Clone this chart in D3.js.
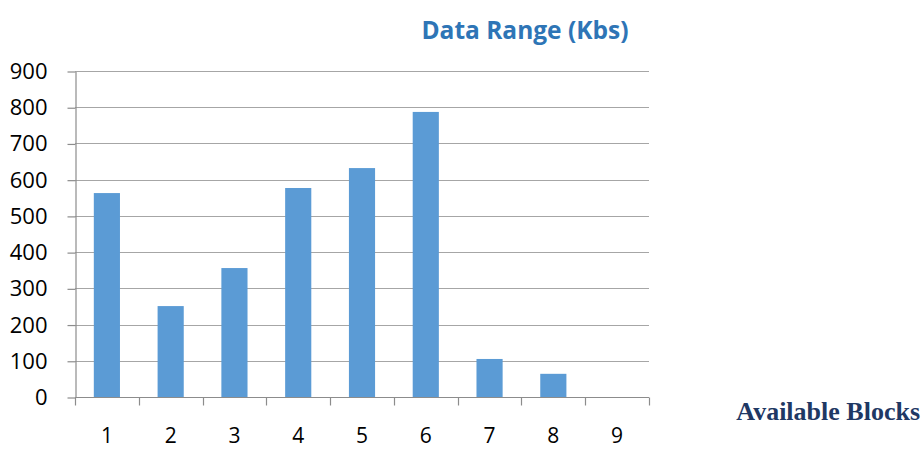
<!DOCTYPE html>
<html>
<head>
<meta charset="utf-8">
<script src="https://cdn.jsdelivr.net/npm/d3@7/dist/d3.min.js"></script>
<style>
  html, body { margin: 0; padding: 0; background: #ffffff; }
  svg { display: block; }
</style>
</head>
<body>
<svg id="chart" width="923" height="450"></svg>
<script>
// Data range per available block
const blocks = ["1", "2", "3", "4", "5", "6", "7", "8", "9"];
const dataRange = [563, 251, 356, 577, 632, 787, 105, 64, 0];
const yTicks = [0, 100, 200, 300, 400, 500, 600, 700, 800, 900];

const titleText = "Data Range (Kbs)";
const xAxisTitle = "Available Blocks";

const svg = d3.select("#chart");
const plot = { left: 75, right: 649, top: 71, bottom: 397 };

const x = d3.scaleBand()
  .domain(blocks)
  .range([plot.left, plot.right])
  .paddingInner(0.59)
  .paddingOuter(0.295);

const xTickScale = d3.scaleBand().domain(blocks).range([plot.left, plot.right]);

const y = d3.scaleLinear().domain([0, 900]).range([plot.bottom, plot.top]);

const gridColor = "#a6a6a6";
const axisColor = "#8c8c8c";
const font = "'Open Sans', 'Noto Sans', sans-serif";

// horizontal gridlines
svg.append("g")
  .selectAll("line")
  .data(yTicks.filter(d => d > 0))
  .join("line")
  .attr("x1", plot.left).attr("x2", plot.right)
  .attr("y1", d => Math.round(y(d)) + 0.5).attr("y2", d => Math.round(y(d)) + 0.5)
  .attr("stroke", gridColor).attr("stroke-width", 1.2);

// bars
svg.append("g")
  .selectAll("rect")
  .data(blocks.map((b, i) => ({ b, v: dataRange[i] })))
  .join("rect")
  .attr("x", d => x(d.b))
  .attr("width", x.bandwidth())
  .attr("y", d => y(d.v))
  .attr("height", d => y(0) - y(d.v))
  .attr("fill", "#5b9bd5");

// y axis
const yAxis = d3.axisLeft(y).tickValues(yTicks).tickSize(8).tickPadding(20).tickSizeOuter(0);
const yg = svg.append("g")
  .attr("transform", `translate(${plot.left + 0.5},0.5)`)
  .call(yAxis);
yg.select(".domain").attr("stroke", axisColor).attr("stroke-width", 1.2);
yg.selectAll(".tick line").attr("stroke", axisColor).attr("stroke-width", 1.2);
yg.selectAll(".tick text")
  .attr("font-family", font).attr("font-size", 22).attr("fill", "#000");

// x axis with ticks on band boundaries
const xg = svg.append("g").attr("transform", `translate(0,${plot.bottom + 0.5})`);
xg.append("line")
  .attr("x1", plot.left).attr("x2", plot.right)
  .attr("stroke", axisColor).attr("stroke-width", 1.2);
const boundaries = blocks.map(b => xTickScale(b)).concat([plot.right]);
xg.selectAll("line.tick")
  .data(boundaries)
  .join("line")
  .attr("class", "tick")
  .attr("x1", d => Math.round(d) + 0.5).attr("x2", d => Math.round(d) + 0.5)
  .attr("y1", 0).attr("y2", 8)
  .attr("stroke", axisColor).attr("stroke-width", 1.2);
xg.selectAll("text")
  .data(blocks)
  .join("text")
  .attr("x", d => xTickScale(d) + xTickScale.bandwidth() / 2)
  .attr("y", 45.5)
  .attr("text-anchor", "middle")
  .attr("font-family", font).attr("font-size", 21).attr("fill", "#000")
  .text(d => d);

// chart title
svg.append("text")
  .attr("x", 525).attr("y", 39)
  .attr("text-anchor", "middle")
  .attr("font-family", font).attr("font-weight", "bold").attr("font-size", 24.5)
  .attr("fill", "#2e75b6")
  .text(titleText);

// x axis title
svg.append("text")
  .attr("x", 920).attr("y", 420)
  .attr("text-anchor", "end")
  .attr("font-family", "'Liberation Serif', 'Times New Roman', serif")
  .attr("font-weight", "bold").attr("font-size", 26)
  .attr("fill", "#1f3864")
  .text(xAxisTitle);
</script>
</body>
</html>
